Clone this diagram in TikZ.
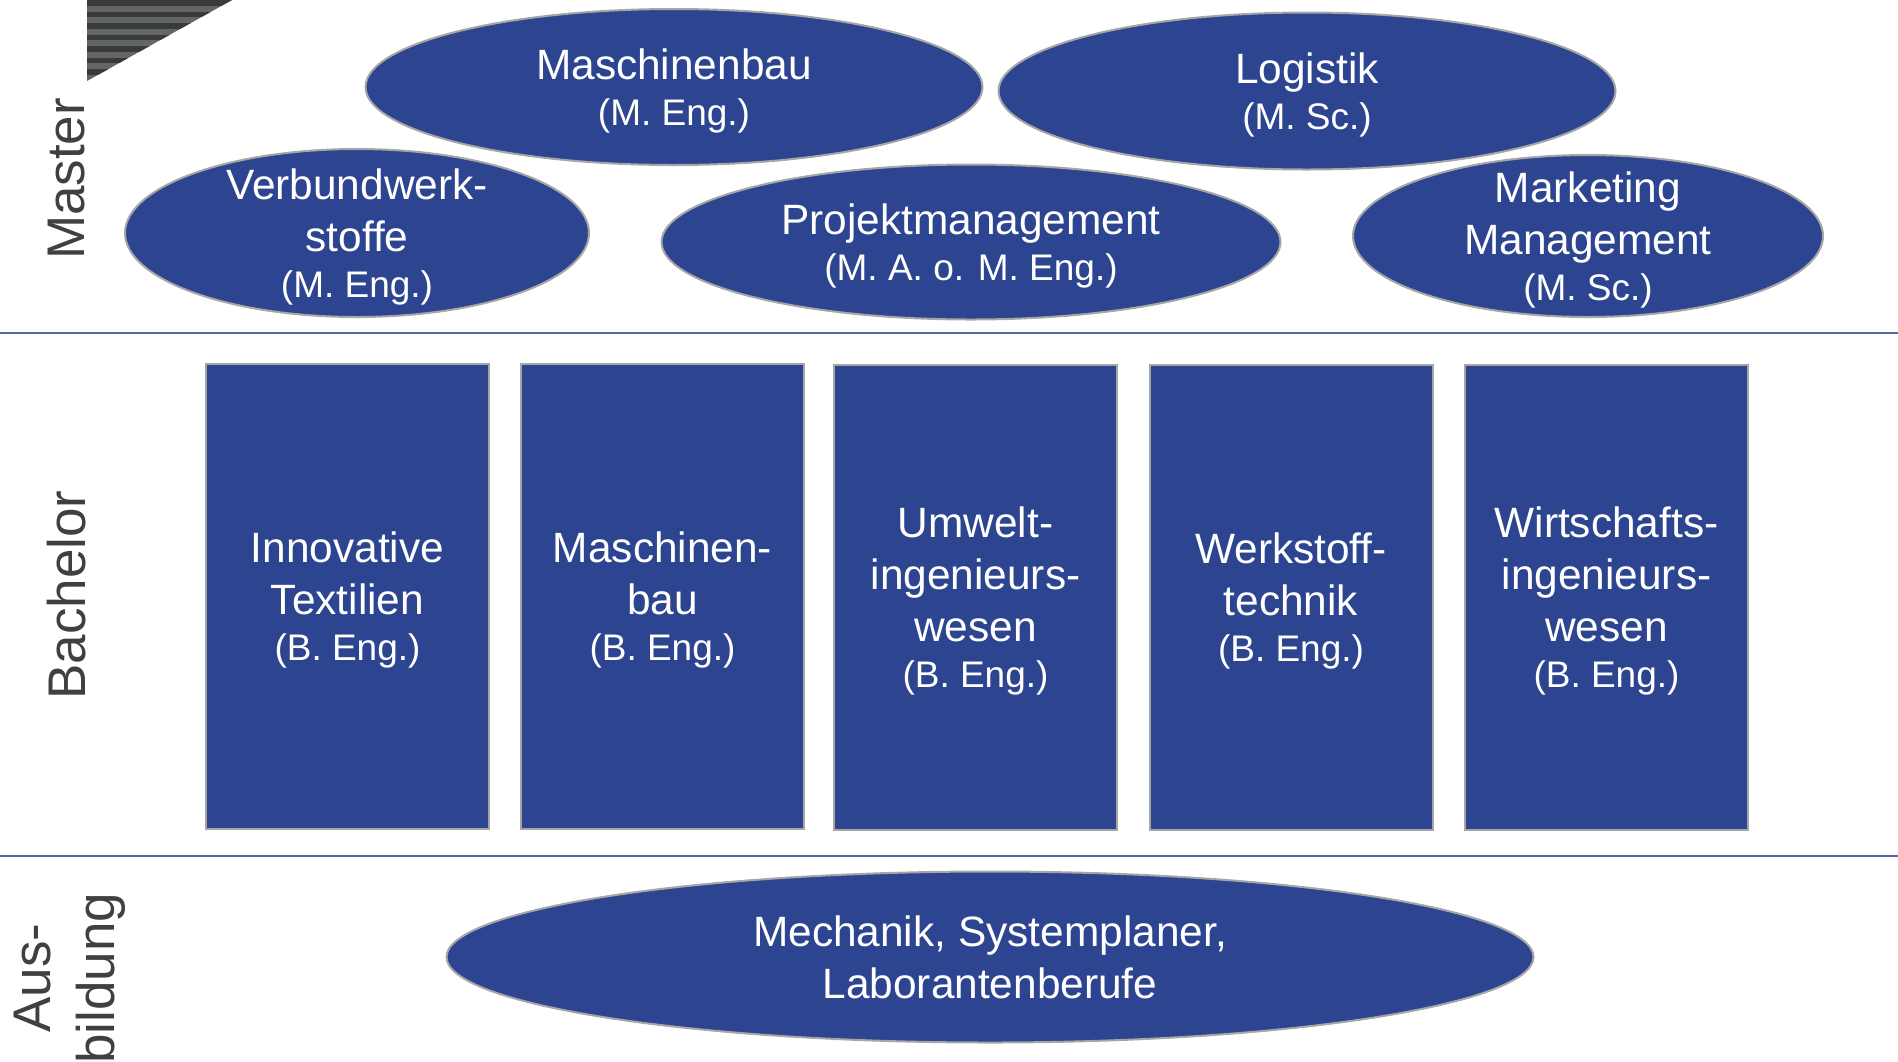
\documentclass[tikz,border=0pt]{standalone}
\usepackage{fontspec}
\setmainfont{Liberation Sans}
\usetikzlibrary{shapes.geometric}
\definecolor{hsblue}{HTML}{2D4590}
\definecolor{hsrim}{HTML}{A6A6A6}
\definecolor{hsline}{HTML}{5566AA}
\definecolor{hsgray}{HTML}{404040}
\definecolor{stripedark}{HTML}{3A3A3A}
\definecolor{stripelight}{HTML}{626666}
\newcommand{\grad}[1]{{\fontsize{18.5}{22}\selectfont #1}}

\begin{document}
\begin{tikzpicture}[x=0.5pt,y=-0.5pt]
\tikzstyle{every node}+=[inner sep=0pt]
\tikzstyle{prog}=[ellipse,draw=hsrim,line width=1pt,fill=hsblue,text=white,align=center,font=\fontsize{21.2}{26}\selectfont,inner xsep=-40pt,inner ysep=-40pt,text depth=-3pt]
\tikzstyle{bach}=[rectangle,draw=hsrim,line width=1pt,fill=hsblue,text=white,align=center,font=\fontsize{21.2}{26}\selectfont,minimum width=141.5pt,minimum height=232.5pt,text depth=-3pt]
\tikzstyle{level}=[rotate=90,text=hsgray,align=center,font=\fontsize{26.5}{32}\selectfont]
\useasboundingbox (0,0) rectangle (1898,1061);
\begin{scope}
\clip (87,0) -- (232,0) -- (87,81) -- cycle;
\fill [stripelight] (87,0) rectangle (232,82);
\foreach \i in {0,...,7}
  \fill [stripedark] (87,\i*11.5) rectangle (232,\i*11.5+5.8);
\end{scope}
\draw [hsline,line width=1pt] (0,333) -- (1898,333);
\draw [hsline,line width=1pt] (0,856) -- (1898,856);
\node [level] (master) at (67,179) {Master};
\node [level] (bachelor) at (67,595) {Bachelor};
\node [level] (ausbildung) at (70,978) {Aus-\\bildung};
\node [prog,minimum width=308.5pt,minimum height=78pt] (m1) at (674,87) {Maschinenbau\\[-3pt]\grad{(M. Eng.)}};
\node [prog,minimum width=308.5pt,minimum height=78.5pt] (m2) at (1307,91) {Logistik\\[-3pt]\grad{(M. Sc.)}};
\node [prog,minimum width=232pt,minimum height=84pt] (m3) at (357,233) {Verbundwerk-\\stoffe\\[-3pt]\grad{(M. Eng.)}};
\node [prog,minimum width=309.5pt,minimum height=77.5pt] (m4) at (971,242) {Projektmanagement\\[-3pt]\grad{(M. A. o. M. Eng.)}};
\node [prog,minimum width=235pt,minimum height=81pt] (m5) at (1588,236) {Marketing\\Management\\[-3pt]\grad{(M. Sc.)}};
\node [bach] (b1) at (347.5,596) {Innovative\\Textilien\\[-3pt]\grad{(B. Eng.)}};
\node [bach] (b2) at (662.5,596) {Maschinen-\\bau\\[-3pt]\grad{(B. Eng.)}};
\node [bach] (b3) at (975.5,597) {Umwelt-\\ingenieurs-\\wesen\\[-3pt]\grad{(B. Eng.)}};
\node [bach] (b4) at (1291,597) {Werkstoff-\\technik\\[-3pt]\grad{(B. Eng.)}};
\node [bach] (b5) at (1606.5,597) {Wirtschafts-\\ingenieurs-\\wesen\\[-3pt]\grad{(B. Eng.)}};
\node [prog,minimum width=543.5pt,minimum height=85.5pt] (a1) at (990,957) {Mechanik, Systemplaner,\\Laborantenberufe};
\end{tikzpicture}
\end{document}
